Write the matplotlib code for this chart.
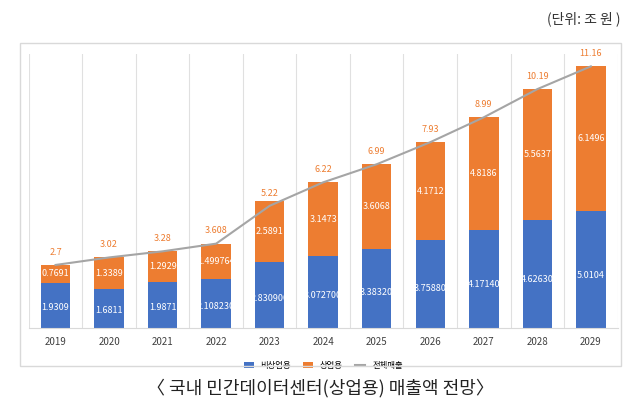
import matplotlib.pyplot as plt
from matplotlib.patches import Rectangle

plt.rcParams['font.family'] = ['Noto Sans CJK KR', 'DejaVu Sans']

years = ['2019', '2020', '2021', '2022', '2023', '2024', '2025', '2026', '2027', '2028', '2029']
noncommercial = [1.9309, 1.6811, 1.9871, 2.108230, 2.830900, 3.072700, 3.38320, 3.75880, 4.17140, 4.62630, 5.0104]
commercial = [0.7691, 1.3389, 1.2929, 1.499764, 2.5891, 3.1473, 3.6068, 4.1712, 4.8186, 5.5637, 6.1496]
total = [2.7, 3.02, 3.28, 3.608, 5.22, 6.22, 6.99, 7.93, 8.99, 10.19, 11.16]
noncom_labels = ['1.9309', '1.6811', '1.9871', '2.108230', '2.830900', '3.072700', '3.38320', '3.75880', '4.17140', '4.62630', '5.0104']
com_labels = ['0.7691', '1.3389', '1.2929', '1.499764', '2.5891', '3.1473', '3.6068', '4.1712', '4.8186', '5.5637', '6.1496']
total_labels = ['2.7', '3.02', '3.28', '3.608', '5.22', '6.22', '6.99', '7.93', '8.99', '10.19', '11.16']

BLUE = '#4472c4'
ORANGE = '#ed7d31'
GREY = '#a5a5a5'

fig = plt.figure(figsize=(6.4, 4.13), dpi=100)
fig.patches.append(Rectangle((0.031, 0.115), 0.94, 0.78, transform=fig.transFigure,
                             fill=False, edgecolor='#d9d9d9', lw=1))
ax = fig.add_axes([0.045, 0.205, 0.92, 0.665])
x = list(range(len(years)))
w = 0.55
b1 = ax.bar(x, noncommercial, w, color=BLUE, label='비상업용', zorder=2)
b2 = ax.bar(x, commercial, w, bottom=noncommercial, color=ORANGE, label='상업용', zorder=2)
l1, = ax.plot(x, total, color=GREY, lw=1.5, label='전체매출', zorder=3)

for i in x:
    ax.text(i, noncommercial[i] * 0.45, noncom_labels[i], ha='center', va='center',
            color='white', fontsize=6.5, zorder=4)
    ax.text(i, noncommercial[i] + commercial[i] / 2, com_labels[i], ha='center', va='center',
            color='white', fontsize=6.5, zorder=4)
    ax.text(i, total[i] + 0.35, total_labels[i], ha='center', va='bottom',
            color=ORANGE, fontsize=6.5, zorder=4)

ax.set_xlim(-0.5, len(years) - 0.5)
ax.set_ylim(0, 11.7)
ax.set_yticks([])
ax.set_xticks(x)
ax.set_xticklabels(years, fontsize=7, color='#404040')
ax.tick_params(axis='x', length=0, pad=6)
for b in [i + 0.5 for i in range(-1, len(years))]:
    ax.axvline(b, color='#e0e0e0', lw=0.8, zorder=1)
for s in ['top', 'left', 'right']:
    ax.spines[s].set_visible(False)
ax.spines['bottom'].set_color('#d9d9d9')

ax.legend([b1, b2, l1], ['비상업용', '상업용', '전체매출'], loc='upper center',
          bbox_to_anchor=(0.5, -0.09), ncol=3, frameon=False,
          fontsize=6, handlelength=1.2, columnspacing=1.5)

fig.text(0.97, 0.955, '(단위: 조 원 )', ha='right', va='center', fontsize=10, color='#333333')
fig.text(0.5, 0.06, '〈 국내 민간데이터센터(상업용) 매출액 전망〉', ha='center', va='center',
         fontsize=13, color='#222222')

fig.savefig('out.png', dpi=100)
